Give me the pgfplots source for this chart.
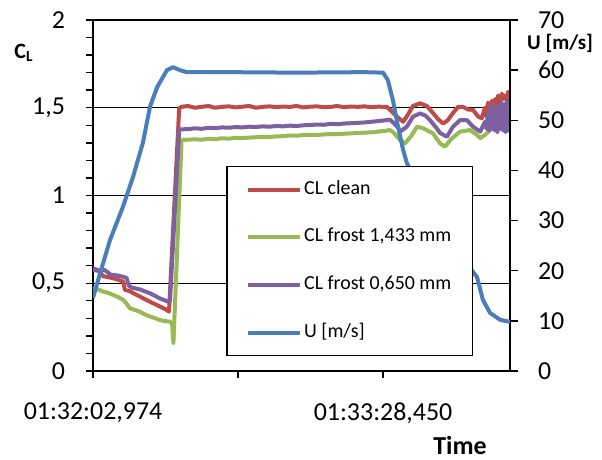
\documentclass[border=0pt]{standalone}
\usepackage{fontspec}
\setmainfont{Carlito}
\usepackage{pgfplots}
\usepackage{pgfplotstable}
\pgfplotsset{compat=1.18}

\definecolor{cblue}{HTML}{4A7EBB}
\definecolor{cred}{HTML}{BE4B48}
\definecolor{cgreen}{HTML}{98B954}
\definecolor{cpurple}{HTML}{7D60A0}

% time in s from 01:32:02,974
\pgfplotstableread{
t cl
0.0 0.585
1.5 0.575
3.0 0.540
4.5 0.535
6.0 0.528
7.5 0.520
8.9 0.509
9.4 0.462
10.9 0.455
11.9 0.443
13.8 0.425
14.8 0.414
16.8 0.395
18.8 0.376
20.5 0.360
21.7 0.348
22.4 0.338
25.4 1.497
26 1.505
28 1.510
30 1.500
32 1.505
34 1.510
36 1.500
38 1.505
40 1.508
42 1.502
44 1.506
46 1.510
48 1.500
50 1.505
52 1.508
54 1.503
56 1.507
58 1.505
60 1.510
62 1.502
64 1.506
66 1.508
68 1.503
70 1.505
72 1.510
74 1.503
76 1.507
78 1.505
80 1.508
82 1.503
84 1.506
86.6 1.505
88.0 1.480
89.5 1.450
91.4 1.420
92.8 1.460
94.3 1.510
96.4 1.525
98.4 1.510
100.2 1.470
101.7 1.435
103.2 1.410
104.6 1.430
106.1 1.470
107.6 1.505
109.0 1.505
110.5 1.490
112.0 1.488
113.5 1.450
114.6 1.440
115.5 1.500
116.0 1.450
116.4 1.530
117.0 1.490
117.6 1.540
118.2 1.500
118.5 1.550
119.0 1.520
119.4 1.570
120.0 1.530
120.5 1.580
121.0 1.550
121.4 1.570
122.0 1.540
122.3 1.590
122.9 1.580
}\clean

\pgfplotstableread{
t cl
0.0 0.471
1.5 0.465
3.0 0.452
4.5 0.445
6.0 0.433
7.5 0.420
8.9 0.405
9.8 0.385
10.9 0.357
12.0 0.350
13.8 0.338
15.0 0.325
16.8 0.310
18.5 0.300
19.7 0.290
21.0 0.285
22.7 0.281
23.3 0.270
23.7 0.158
24.0 0.300
26.1 1.316
28 1.318
30 1.320
32 1.318
34 1.323
36 1.321
38 1.326
40 1.324
42 1.328
44 1.327
46 1.330
48 1.332
50 1.334
52 1.333
54 1.337
56 1.338
58 1.342
60 1.341
62 1.344
64 1.346
66 1.345
68 1.348
70 1.350
72 1.349
74 1.352
76 1.354
78 1.356
80 1.358
82 1.360
84 1.364
86 1.368
87.5 1.373
88.5 1.360
90.5 1.316
92.0 1.297
94.0 1.345
95.5 1.392
97.3 1.383
100.2 1.354
102.3 1.297
103.7 1.278
105.8 1.326
108.2 1.364
111.1 1.373
113.2 1.345
114.1 1.326
115.5 1.345
117.0 1.373
118.5 1.390
120.0 1.380
121.5 1.400
122.9 1.390
}\frostA

\pgfplotstableread{
t cl
0.0 0.575
2.0 0.570
3.5 0.575
4.5 0.560
5.2 0.548
7.0 0.545
8.9 0.537
9.9 0.530
10.6 0.485
11.5 0.475
13.8 0.465
16.8 0.443
19.7 0.414
21.5 0.400
22.2 0.395
22.7 0.400
25.4 1.373
25.6 1.377
28 1.378
30 1.383
32 1.380
34 1.386
36 1.384
38 1.388
40 1.386
42 1.390
44 1.388
46 1.392
48 1.390
50 1.394
52 1.392
54 1.396
56 1.394
58 1.398
60 1.396
62 1.400
64 1.402
66 1.404
68 1.403
70 1.408
72 1.406
74 1.410
76 1.412
78 1.414
80 1.416
82 1.420
84 1.424
86 1.428
87.5 1.432
88.5 1.415
90.0 1.385
90.5 1.364
92.5 1.392
94.3 1.449
96.4 1.468
98.0 1.455
99.3 1.430
101.0 1.390
102.3 1.356
104.3 1.335
106.1 1.392
108.2 1.430
110.2 1.430
112.0 1.392
114.1 1.364
115.5 1.420
116.0 1.380
116.4 1.470
116.8 1.370
117.2 1.500
117.6 1.380
118.0 1.520
118.4 1.370
118.8 1.500
119.2 1.360
119.6 1.510
120.0 1.380
120.4 1.530
120.8 1.370
121.2 1.520
121.6 1.360
122.0 1.540
122.4 1.370
122.9 1.520
}\frostB

\pgfplotstableread{
t u
0.0 14.6
2.1 19.5
5.0 26.1
8.8 32.7
11.8 38.7
14.7 45.5
16.8 52.7
18.9 56.6
21.8 60.0
23.6 60.6
25.6 60.0
27.7 59.6
40 59.6
60 59.5
80 59.6
85.5 59.5
86.9 58.0
88.4 54.0
89.9 48.7
91.4 44.1
92.5 41.5
96.4 36.1
102.3 29.1
108.2 23.1
113.2 18.7
114.9 14.2
117.0 11.6
120.0 10.2
122.9 9.8
}\speed

\pgfplotsset{
  every axis/.append style={
    scale only axis, width=208.5bp, height=175.5bp,
    at={(46.5bp,44.5bp)}, anchor=south west,
    xmin=0, xmax=122.9,
    axis line style={-, black, line width=1bp},
    tick style={black, line width=0.7bp},
    ticklabel style={font=\fontsize{13}{15}\selectfont},
    /pgf/number format/assume math mode=true,
    /pgf/number format/use comma,
  },
  series/.style={no markers, line width=2bp, line join=round},
}

\begin{document}
\begin{tikzpicture}
\path[use as bounding box] (0,0) rectangle (301bp,230bp);

\begin{axis}[
  axis x line*=bottom, axis y line*=left,
  xtick pos=bottom, ytick pos=left,
  tick align=outside,
  ymin=0, ymax=2,
  ytick={0,0.5,1,1.5,2},
  minor y tick num=4,
  major tick length=3.5bp, minor tick length=3.5bp,
  xtick={0,42.738,85.476},
  xticklabels={{01:32:02,974},{},{01:33:28,450}},
  xticklabel style={yshift=-9bp},
  yticklabel style={xshift=-7bp},
  ymajorgrids,
  major grid style={black, line width=0.6bp},
]
\addplot[series, cred] table[x=t, y=cl] {\clean};
\addplot[series, cgreen] table[x=t, y=cl] {\frostA};
\addplot[series, cpurple] table[x=t, y=cl] {\frostB};
\end{axis}

\begin{axis}[
  hide x axis, axis y line*=right,
  ytick pos=right,
  tick align=outside,
  ymin=0, ymax=70,
  ytick={0,10,...,70},
  major tick length=4bp,
  yticklabel style={xshift=6.5bp},
  legend cell align=left,
  legend image code/.code={\draw[#1] (0bp,0bp) -- (26bp,0bp);},
  legend style={at={(0.320,0.584)}, anchor=north west,
    draw=black, line width=0.7bp, fill=white,
    font=\fontsize{10}{12}\selectfont,
    inner xsep=9.5bp, inner ysep=5.75bp, row sep=12.3bp,
    nodes={inner sep=1bp, text height=7bp, text depth=2.5bp}},
]
\addlegendimage{series, cred}
\addlegendentry{CL clean}
\addlegendimage{series, cgreen}
\addlegendentry{CL frost 1,433 mm}
\addlegendimage{series, cpurple}
\addlegendentry{CL frost 0,650 mm}
\addplot[series, cblue] table[x=t, y=u] {\speed};
\addlegendentry{U [m/s]}
\end{axis}

\node[font=\bfseries\fontsize{11}{13}\selectfont] at (12bp,203.5bp) {C\textsubscript{L}};
\node[font=\bfseries\fontsize{10.5}{12}\selectfont] at (280bp,208.5bp) {U [m/s]};
\node[font=\bfseries\fontsize{13}{15}\selectfont] at (230bp,7bp) {Time};
\end{tikzpicture}
\end{document}
